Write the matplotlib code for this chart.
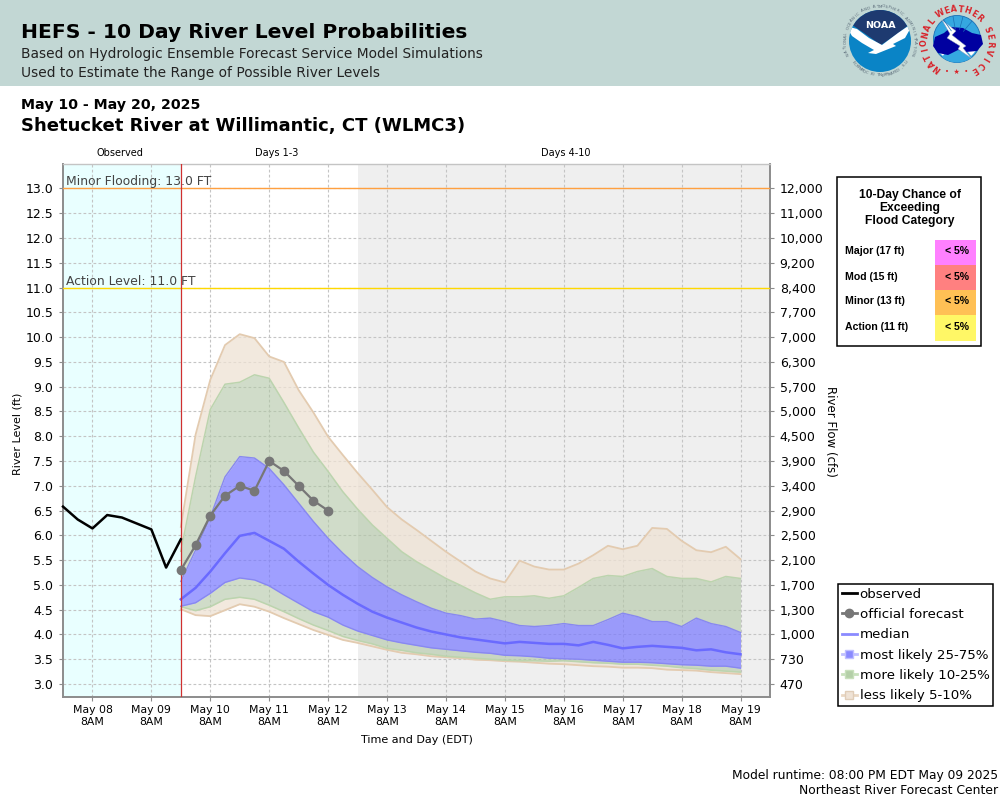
import numpy as np
import matplotlib
matplotlib.use("Agg")
import matplotlib.pyplot as plt
from matplotlib.lines import Line2D
from matplotlib.patches import Circle, Polygon, Rectangle, Wedge

# hours after May 08 8AM
obs_hours = [-12, -6, 0, 6, 12, 18, 24, 30, 36]
observed = [6.58, 6.32, 6.14, 6.41, 6.36, 6.24, 6.12, 5.35, 5.92]

official_hours = [36, 42, 48, 54, 60, 66, 72, 78, 84, 90, 96]
official = [5.3, 5.8, 6.4, 6.8, 7.0, 6.9, 7.5, 7.3, 7.0, 6.7, 6.5]

fc_hours = list(range(36, 265, 6))
p95 = [6.17, 8.03, 9.14, 9.84, 10.06, 9.98, 9.61, 9.50, 8.93, 8.48, 7.99, 7.62, 7.26,
       6.92, 6.57, 6.32, 6.11, 5.89, 5.67, 5.47, 5.27, 5.13, 5.05, 5.49, 5.37, 5.31,
       5.31, 5.43, 5.60, 5.79, 5.72, 5.79, 6.15, 6.13, 5.89, 5.70, 5.66, 5.77, 5.52]
p90 = [5.68, 7.18, 8.54, 9.05, 9.09, 9.24, 9.17, 8.68, 8.17, 7.68, 7.29, 6.88, 6.53,
       6.21, 5.94, 5.67, 5.47, 5.30, 5.13, 4.99, 4.84, 4.71, 4.76, 4.76, 4.78, 4.73,
       4.78, 4.95, 5.13, 5.19, 5.17, 5.27, 5.33, 5.17, 5.13, 5.13, 5.06, 5.17, 5.13]
p75 = [5.07, 5.70, 6.37, 7.18, 7.59, 7.56, 7.35, 7.02, 6.65, 6.28, 5.94, 5.64, 5.37,
       5.15, 4.96, 4.80, 4.66, 4.53, 4.43, 4.38, 4.31, 4.33, 4.26, 4.18, 4.16, 4.18,
       4.22, 4.18, 4.18, 4.30, 4.43, 4.36, 4.26, 4.26, 4.16, 4.33, 4.22, 4.16, 4.04]
median = [4.71, 4.94, 5.27, 5.64, 5.99, 6.05, 5.89, 5.73, 5.47, 5.23, 5.00, 4.80, 4.62,
          4.46, 4.34, 4.24, 4.14, 4.06, 4.00, 3.94, 3.90, 3.86, 3.82, 3.85, 3.83, 3.81,
          3.81, 3.78, 3.85, 3.79, 3.72, 3.75, 3.77, 3.75, 3.73, 3.68, 3.70, 3.64, 3.60]
p25 = [4.57, 4.64, 4.83, 5.05, 5.14, 5.10, 4.98, 4.80, 4.63, 4.46, 4.35, 4.19, 4.07,
       3.98, 3.89, 3.83, 3.78, 3.73, 3.70, 3.67, 3.64, 3.62, 3.58, 3.57, 3.55, 3.52,
       3.51, 3.50, 3.48, 3.46, 3.44, 3.44, 3.43, 3.41, 3.39, 3.38, 3.36, 3.36, 3.32]
p10 = [4.56, 4.48, 4.56, 4.71, 4.75, 4.71, 4.59, 4.46, 4.32, 4.19, 4.08, 3.96, 3.88,
       3.81, 3.72, 3.68, 3.63, 3.60, 3.56, 3.54, 3.52, 3.50, 3.48, 3.47, 3.47, 3.46,
       3.47, 3.45, 3.43, 3.42, 3.40, 3.40, 3.38, 3.36, 3.33, 3.31, 3.28, 3.26, 3.24]
p5 = [4.51, 4.39, 4.37, 4.49, 4.61, 4.56, 4.46, 4.33, 4.21, 4.09, 3.99, 3.89, 3.83,
      3.76, 3.69, 3.63, 3.60, 3.56, 3.54, 3.52, 3.49, 3.48, 3.46, 3.45, 3.43, 3.41,
      3.40, 3.38, 3.36, 3.35, 3.33, 3.33, 3.32, 3.29, 3.28, 3.27, 3.24, 3.22, 3.20]

level_ticks = [3.0, 3.5, 4.0, 4.5, 5.0, 5.5, 6.0, 6.5, 7.0, 7.5, 8.0, 8.5, 9.0, 9.5,
               10.0, 10.5, 11.0, 11.5, 12.0, 12.5, 13.0]
flow_labels = ["470", "730", "1,000", "1,300", "1,700", "2,100", "2,500", "2,900", "3,400",
               "3,900", "4,500", "5,000", "5,700", "6,300", "7,000", "7,700", "8,400",
               "9,200", "10,000", "11,000", "12,000"]
day_hours = list(range(0, 265, 24))
day_labels = ["May 08\n8AM", "May 09\n8AM", "May 10\n8AM", "May 11\n8AM", "May 12\n8AM", "May 13\n8AM",
              "May 14\n8AM", "May 15\n8AM", "May 16\n8AM", "May 17\n8AM", "May 18\n8AM", "May 19\n8AM"]

flood_names = ["Major (17 ft)", "Mod (15 ft)", "Minor (13 ft)", "Action (11 ft)"]
flood_chances = ["< 5%", "< 5%", "< 5%", "< 5%"]
flood_colors = ["#FF80FF", "#FF8080", "#FFC055", "#FFF766"]

GREY = "#777777"

plt.rcParams["font.family"] = "DejaVu Sans"

fig = plt.figure(figsize=(10, 8), dpi=100)
ax = fig.add_axes([63 / 1000, 1 - 697 / 800, 707 / 1000, 533 / 800])
ax.set_xlim(-12, 276)
ax.set_ylim(2.738, 13.494)

ax.axvspan(-12, 36, color="#E9FFFF", lw=0, zorder=0)
ax.axvspan(108, 276, color="#EFEFEF", lw=0, zorder=0)
ax.grid(True, color="#C4C4C4", ls=(0, (2.5, 2)), lw=0.8, zorder=1)
ax.set_axisbelow(True)

ax.fill_between(fc_hours, p90, p95, color="#EEE2D4", alpha=0.75, lw=0, zorder=2)
ax.fill_between(fc_hours, p5, p10, color="#EEE2D4", alpha=0.75, lw=0, zorder=2)
ax.fill_between(fc_hours, p75, p90, color="#B1C6A5", alpha=0.6, lw=0, zorder=2)
ax.fill_between(fc_hours, p10, p25, color="#B1C6A5", alpha=0.6, lw=0, zorder=2)
ax.fill_between(fc_hours, p25, p75, color="#7777FF", alpha=0.7, lw=0, zorder=2)
ax.plot(fc_hours, p95, color="#E3CBB0", lw=1.3, zorder=3)
ax.plot(fc_hours, p5, color="#E3CBB0", lw=1.3, zorder=3)
ax.plot(fc_hours, p90, color="#BCD4AE", lw=1.1, zorder=3)
ax.plot(fc_hours, p10, color="#BCD4AE", lw=1.1, zorder=3)
ax.plot(fc_hours, p75, color="#8888F0", lw=1.0, zorder=3)
ax.plot(fc_hours, p25, color="#8888F0", lw=1.0, zorder=3)
ax.plot(fc_hours, median, color="#6A6AFF", lw=1.8, zorder=4)

ax.axhline(13, color="#FFA040", lw=1, zorder=3)
ax.axhline(11, color="#FFD800", lw=1, zorder=3)
ax.axvline(36, color="#D03030", lw=0.9, zorder=5)
ax.text(-10.6, 13.07, "Minor Flooding: 13.0 FT", fontsize=8.9, color="#444444", zorder=6)
ax.text(-10.6, 11.05, "Action Level: 11.0 FT", fontsize=8.9, color="#444444", zorder=6)

ax.plot(obs_hours, observed, color="black", lw=1.8, zorder=6, clip_on=False)
ax.plot(official_hours, official, color=GREY, lw=1.6, marker="o", ms=6, zorder=7, clip_on=False)

ax.set_xticks(day_hours)
ax.set_xticklabels(day_labels, fontsize=7.8, linespacing=1.25)
ax.set_yticks(level_ticks)
ax.set_yticklabels([f"{v:.1f}" for v in level_ticks], fontsize=9)
ax.tick_params(axis="x", length=3, color="#8C8C8C", pad=3)
ax.tick_params(axis="y", length=3, color="#8C8C8C", pad=4)
for side in ["left", "bottom", "right"]:
    ax.spines[side].set_color("#8C8C8C")
    ax.spines[side].set_linewidth(1.4)
ax.spines["top"].set_color("#C4C4C4")
ax.spines["top"].set_linewidth(1)

ax2 = ax.twinx()
ax2.set_ylim(ax.get_ylim())
ax2.set_yticks(level_ticks)
ax2.set_yticklabels(flow_labels, fontsize=9)
ax2.tick_params(axis="y", length=3, color="#8C8C8C", pad=4)
for spine in ax2.spines.values():
    spine.set_visible(False)

handles = [
    Line2D([], [], color="black", lw=2),
    Line2D([], [], color=GREY, lw=2, marker="o", ms=6),
    Line2D([], [], color="#8A8AFF", lw=2),
    Line2D([], [], color="#C0C0FF", lw=2, marker="s", ms=6, mfc="#8A8AFF", mec="#C0C0FF"),
    Line2D([], [], color="#C8E0BC", lw=2, marker="s", ms=6, mfc="#B4CFA8", mec="#C8E0BC"),
    Line2D([], [], color="#EAD8C4", lw=2, marker="s", ms=6, mfc="#EFE3D6", mec="#E0CDB8"),
]
leg = ax2.legend(handles, ["observed", "official forecast", "median", "most likely 25-75%",
                           "more likely 10-25%", "less likely 5-10%"],
                 loc="upper left", bbox_to_anchor=(838 / 1000, 1 - 584 / 800), bbox_transform=fig.transFigure,
                 borderaxespad=0, fontsize=9.6, fancybox=False, framealpha=1, edgecolor="black",
                 handlelength=1.15, handletextpad=0.2, labelspacing=0.55, borderpad=0.28)
leg.get_frame().set_linewidth(1.1)

# everything outside the plot, in pixel coordinates
over = fig.add_axes([0, 0, 1, 1], zorder=-1)
over.set_xlim(0, 1000)
over.set_ylim(800, 0)
over.axis("off")
top = fig.add_axes([0, 0, 1, 1], zorder=5)
top.set_xlim(0, 1000)
top.set_ylim(800, 0)
top.axis("off")
top.patch.set_alpha(0)

over.add_patch(Rectangle((0, 0), 1000, 86, color="#C2D7D4", lw=0))
over.text(21, 33, "HEFS - 10 Day River Level Probabilities", fontsize=14.6, fontweight="bold", va="center")
over.text(21, 54, "Based on Hydrologic Ensemble Forecast Service Model Simulations", fontsize=9.95, va="center", color="#222222")
over.text(21, 73, "Used to Estimate the Range of Possible River Levels", fontsize=9.95, va="center", color="#222222")
over.text(21, 105, "May 10 - May 20, 2025", fontsize=10.15, fontweight="bold", va="center")
over.text(21, 125.5, "Shetucket River at Willimantic, CT (WLMC3)", fontsize=13, fontweight="bold", va="center")
over.text(120, 153.5, "Observed", fontsize=7, ha="center", va="center")
over.text(276.5, 153.5, "Days 1-3", fontsize=7, ha="center", va="center")
over.text(566, 153.5, "Days 4-10", fontsize=7, ha="center", va="center")
over.text(417, 740, "Time and Day (EDT)", fontsize=8, ha="center", va="center")
over.text(18, 434, "River Level (ft)", fontsize=8, rotation=90, ha="center", va="center")
over.text(831, 431, "River Flow (cfs)", fontsize=8.5, rotation=-90, ha="center", va="center")
over.text(998, 775, "Model runtime: 08:00 PM EDT May 09 2025", fontsize=8.8, ha="right", va="center")
over.text(998, 791, "Northeast River Forecast Center", fontsize=8.9, ha="right", va="center")

# flood category box
arial = "Liberation Sans"
top.add_patch(Rectangle((836.5, 176.5), 144, 169, fc="white", ec="black", lw=1.1))
for y, line in zip([195, 208, 221], ["10-Day Chance of", "Exceeding", "Flood Category"]):
    top.text(910, y, line, family=arial, fontweight="bold", fontsize=8.7, ha="center", va="center")
for i, (name, chance, col) in enumerate(zip(flood_names, flood_chances, flood_colors)):
    y0 = 240 + i * 25
    top.add_patch(Rectangle((935, y0), 41, 26 if i == 3 else 25, color=col, lw=0))
    top.text(845, y0 + 11.5, name, family=arial, fontweight="bold", fontsize=7.6, va="center")
    top.text(957, y0 + 11.5, chance, family=arial, fontweight="bold", fontsize=7.6, ha="center", va="center")


def ring_text(cx, cy, r, s, start, end, flip=False, **kw):
    # one rotated text per character, angles in degrees clockwise from north
    for ch, a in zip(s, np.linspace(start, end, len(s))):
        t = np.radians(a)
        rot = 180 - a if flip else -a
        over.text(cx + r * np.sin(t), cy - r * np.cos(t), ch, rotation=rot, ha="center", va="center", **kw)


# NOAA logo
disc = Circle((880, 41), 31, fc="#0A84C6", ec="none")
over.add_patch(disc)
sky = Polygon([(845, 5), (915, 5), (915, 20), (897, 34), (881, 45), (864, 33), (845, 20)], fc="#1E3A70", ec="none")
over.add_patch(sky)
sky.set_clip_path(disc)
gull = Polygon([(846, 26), (857, 29), (869, 38), (882, 45), (898, 33), (914, 22), (905, 38), (893, 44), (896, 46),
                (876, 54), (868, 53), (874, 50), (862, 43), (852, 36)], fc="white", ec="none")
over.add_patch(gull)
gull.set_clip_path(disc)
over.text(880, 25, "NOAA", fontsize=6.8, fontweight="bold", color="white", ha="center", va="center")
ring_text(880, 41, 34.5, "NATIONAL OCEANIC AND ATMOSPHERIC ADMINISTRATION", -112, 112, fontsize=2.9, color="#5A6A78")
ring_text(880, 41, 34.5, "U.S. DEPARTMENT OF COMMERCE", 128, 232, flip=True, fontsize=2.9, color="#5A6A78")

# NWS logo
over.add_patch(Circle((957, 39), 23.5, fc="#35A7E0", ec="#1A6FB5", lw=0.6))
for a in [-35, -10, 15, 40]:
    t = np.radians(a)
    over.plot([957 + 10 * np.sin(t), 957 + 23 * np.sin(t)], [39 - 10 * np.cos(t), 39 - 23 * np.cos(t)],
              color="#1A6FB5", lw=0.5)
over.add_patch(Wedge((957, 39), 22, 20, 160, fc="white", ec="none"))
over.add_patch(Wedge((957, 39), 23.5, 50, 130, fc="#35A7E0", ec="none"))
cloud = Polygon([(933, 46), (935, 37), (944, 33), (951, 27), (963, 28), (972, 33), (981, 35), (983, 44), (977, 51),
                 (966, 52), (958, 50), (948, 55), (938, 53)], fc="#0000A0", ec="none")
over.add_patch(cloud)
over.add_patch(Polygon([(942, 20), (956, 31), (952, 35), (966, 46), (963, 48), (971, 58), (958, 49), (960, 46),
                        (947, 38), (950, 34)], fc="white", ec="#8899BB", lw=0.3))
ring_text(957, 42, 32.5, "NATIONAL", -143, -51, fontsize=5.8, fontweight="bold", color="#D8232A")
ring_text(957, 42, 32.5, "WEATHER", -30, 43, fontsize=5.8, fontweight="bold", color="#D8232A")
ring_text(957, 42, 32.5, "SERVICE", 67, 148, fontsize=5.8, fontweight="bold", color="#D8232A")
over.text(957, 72, "\u2022  \u2605  \u2022", fontsize=5, color="#D8232A", ha="center", va="center")

fig.savefig("out.png", dpi=100)
